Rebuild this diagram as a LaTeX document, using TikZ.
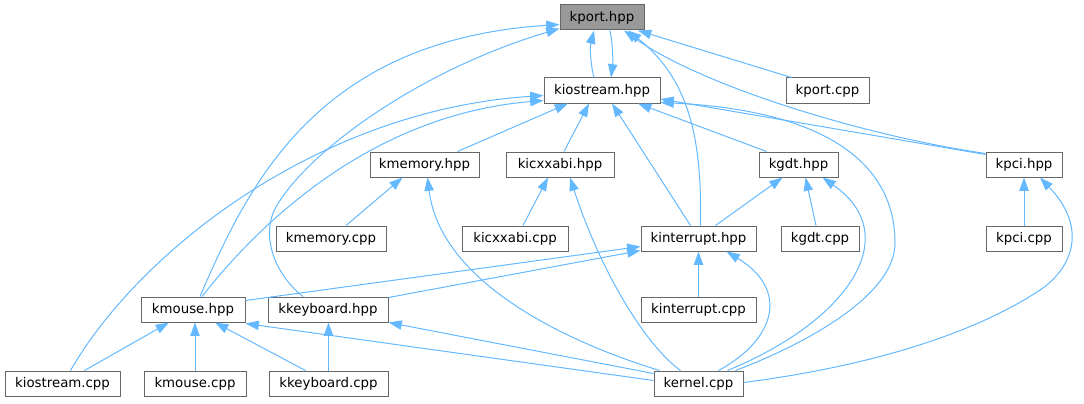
\documentclass[tikz,border=0pt]{standalone}
\usepackage{fontspec}
\setmainfont{DejaVu Sans}
\usetikzlibrary{arrows.meta, calc}
\definecolor{edge}{HTML}{63B8FF}
\definecolor{frame}{HTML}{666666}
\definecolor{root}{HTML}{999999}
\tikzset{
  file/.style={draw=frame, fill=white, line width=0.75pt, inner sep=0pt,
    minimum height=18.75pt, minimum width=#1*0.75pt, font=\fontsize{10}{12}\selectfont},
  inc/.style={draw=edge, line width=0.75pt, -{Triangle[length=10pt, width=7pt]}}
}
\begin{document}
\begin{tikzpicture}[x=0.75pt, y=-0.75pt]
  \useasboundingbox (0,0) rectangle (1084,403);
  % headers and sources, row by row
  \node[file=84, fill=root] (kport) at (602,17.5) {kport.hpp};
  \node[file=116] (kios) at (602,90.5) {kiostream.hpp};
  \node[file=83] (kportcpp) at (827.5,90.5) {kport.cpp};
  \node[file=109] (kmem) at (424.5,164.5) {kmemory.hpp};
  \node[file=108] (kicx) at (560,164.5) {kicxxabi.hpp};
  \node[file=79] (kgdt) at (798.5,164.5) {kgdt.hpp};
  \node[file=76] (kpci) at (1024,164.5) {kpci.hpp};
  \node[file=110] (kmemcpp) at (331,238.5) {kmemory.cpp};
  \node[file=106] (kicxcpp) at (515,238.5) {kicxxabi.cpp};
  \node[file=115] (kint) at (698.5,238.5) {kinterrupt.hpp};
  \node[file=78] (kgdtcpp) at (820,238.5) {kgdt.cpp};
  \node[file=76] (kpcicpp) at (1024,238.5) {kpci.cpp};
  \node[file=104] (kmouse) at (193,309.5) {kmouse.hpp};
  \node[file=120] (kkbd) at (328,309.5) {kkeyboard.hpp};
  \node[file=115] (kintcpp) at (698.5,309.5) {kinterrupt.cpp};
  \node[file=115] (kioscpp) at (62.5,383.5) {kiostream.cpp};
  \node[file=102] (kmousecpp) at (195,383.5) {kmouse.cpp};
  \node[file=119] (kkbdcpp) at (328.5,383.5) {kkeyboard.cpp};
  \node[file=89] (kernel) at (698.5,383.5) {kernel.cpp};

  % includes of kport.hpp
  \draw[inc] ($(kios.north)+(-8,0)$) .. controls (590,62) and (590,46) .. ($(kport.south)+(-8,0)$);
  \draw[inc] ($(kport.south)+(8,0)$) .. controls (613,46) and (613,62) .. ($(kios.north)+(9,0)$);
  \draw[inc] ($(kportcpp.north)+(-36,0)$) -- ($(kport.south)+(36,0)$);
  \draw[inc] ($(kpci.north west)+(0,2)$) .. controls (860,135) and (700,85) .. ($(kport.south)+(22,0)$);
  \draw[inc] ($(kint.north)+(2,0)$) .. controls (702,140) and (690,80) .. ($(kport.south)+(26,0)$);
  \draw[inc] ($(kmouse.north)+(7,0)$) .. controls (250,180) and (320,40) .. ($(kport.west)+(0,7)$);
  \draw[inc] ($(kkbd.north)+(-25,0)$) .. controls (275,275) and (260,235) .. (276,207)
    .. controls (308,151) and (420,70) .. ($(kport.south west)+(0,-2)$);

  % includes of kiostream.hpp
  \draw[inc] ($(kmem.north)+(33,0)$) -- ($(kios.south)+(-34,0)$);
  \draw[inc] ($(kicx.north)+(4,0)$) -- ($(kios.south)+(-13,0)$);
  \draw[inc] ($(kint.north)+(-8,0)$) -- ($(kios.south)+(10,0)$);
  \draw[inc] ($(kgdt.north)+(-32,0)$) -- ($(kios.south)+(36,0)$);
  \draw[inc] ($(kpci.north west)+(0,3)$) -- ($(kios.east)+(0,8.5)$);
  \draw[inc] ($(kernel.north)+(37,0)$) .. controls (790,350) and (895,300) .. (895,243)
    .. controls (895,160) and (820,110) .. ($(kios.south east)+(0,-1)$);
  \draw[inc] ($(kioscpp.north)+(8,0)$) .. controls (140,250) and (320,110) .. ($(kios.west)+(0,5)$);
  \draw[inc] ($(kmouse.north)+(9,0)$) .. controls (258,225) and (370,115) .. ($(kios.west)+(0,10)$);

  % kmemory.hpp, kicxxabi.hpp
  \draw[inc] ($(kmemcpp.north)+(15,0)$) -- ($(kmem.south)+(-22,0)$);
  \draw[inc] ($(kernel.north west)+(6,0)$) .. controls (560,340) and (440,280) .. ($(kmem.south)+(3,0)$);
  \draw[inc] ($(kicxcpp.north)+(8,0)$) -- ($(kicx.south)+(-12,0)$);
  \draw[inc] ($(kernel.north)+(-18,0)$) .. controls (645,345) and (600,270) .. ($(kicx.south)+(10,0)$);

  % kgdt.hpp, kpci.hpp
  \draw[inc] ($(kint.north)+(17,0)$) -- ($(kgdt.south)+(-16,0)$);
  \draw[inc] ($(kgdtcpp.north)+(-4,0)$) -- ($(kgdt.south)+(7,0)$);
  \draw[inc] ($(kernel.north)+(29,0)$) .. controls (850,320) and (905,235) .. ($(kgdt.south)+(24,0)$);
  \draw[inc] (kpcicpp) -- (kpci);
  \draw[inc] ($(kernel.east)+(0,-1)$) .. controls (880,365) and (980,330) .. (1040,290)
    .. controls (1070,270) and (1090,230) .. ($(kpci.south)+(16,0)$);

  % kinterrupt.hpp
  \draw[inc] ($(kmouse.north east)+(0,4)$) -- ($(kint.west)+(0,8)$);
  \draw[inc] ($(kkbd.north east)+(0,1)$) -- ($(kint.south west)+(0,-1)$);
  \draw[inc] (kintcpp) -- (kint);
  \draw[inc] ($(kernel.north)+(20,0)$) .. controls (775,340) and (790,290) .. ($(kint.south)+(28,0)$);

  % kmouse.hpp, kkeyboard.hpp
  \draw[inc] ($(kioscpp.north)+(22,0)$) -- ($(kmouse.south)+(-24,0)$);
  \draw[inc] (kmousecpp.north) -- (kmousecpp.north |- kmouse.south);
  \draw[inc] ($(kkbdcpp.north)+(-23,0)$) -- ($(kmouse.south)+(22,0)$);
  \draw[inc] ($(kernel.west)+(0,-3)$) -- ($(kmouse.south east)+(0,1)$);
  \draw[inc] (kkbdcpp.north) -- (kkbdcpp.north |- kkbd.south);
  \draw[inc] ($(kernel.north west)+(0,3)$) -- (kkbd.south east);
\end{tikzpicture}
\end{document}
